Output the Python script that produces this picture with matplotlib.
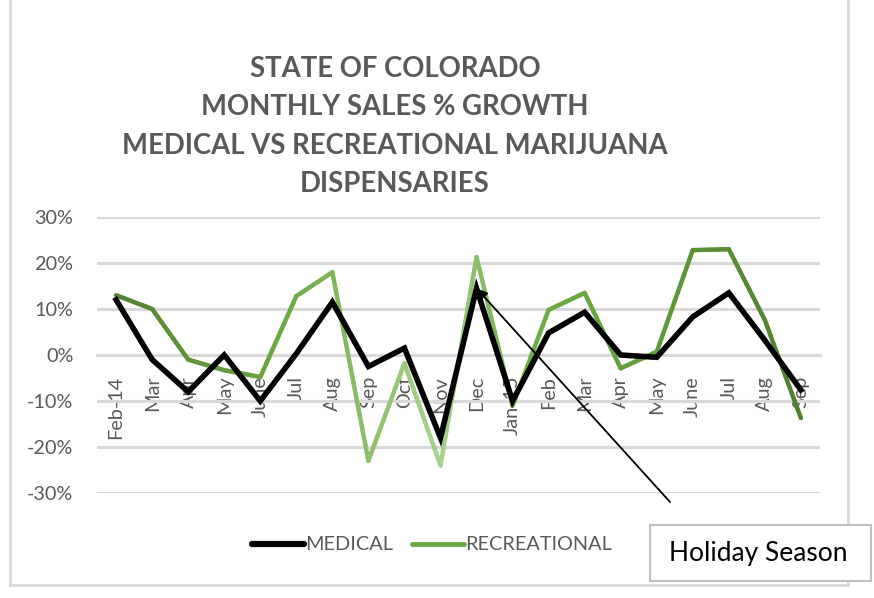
import numpy as np
import matplotlib
matplotlib.use("Agg")
import matplotlib.pyplot as plt
from matplotlib.collections import LineCollection
from matplotlib.colors import LinearSegmentedColormap
from matplotlib.lines import Line2D
from matplotlib.patches import Rectangle

# ---- data ----
months = ["Feb-14", "Mar", "Apr", "May", "June", "Jul", "Aug", "Sep", "Oct", "Nov",
          "Dec", "Jan-15", "Feb", "Mar", "Apr", "May", "June", "Jul", "Aug", "Sep"]
medical = [12.0, -1.0, -8.0, 0.0, -10.0, 0.3, 11.5, -2.5, 1.5, -18.0,
           14.5, -10.0, 4.8, 9.3, 0.0, -0.5, 8.3, 13.5, 3.2, -7.6]
recreational = [13.0, 10.0, -1.0, -3.3, -4.8, 12.8, 18.0, -23.0, -1.8, -24.0,
                21.3, -11.0, 9.8, 13.5, -2.9, 0.7, 22.8, 23.0, 7.6, -13.7]
yticks = [-30, -20, -10, 0, 10, 20, 30]
title_lines = ["STATE OF COLORADO", "MONTHLY SALES % GROWTH",
               "MEDICAL VS RECREATIONAL MARIJUANA", "DISPENSARIES"]
annotation_text = "Holiday Season"
series_names = ["MEDICAL", "RECREATIONAL"]

plt.rcParams['font.family'] = ['Lato', 'DejaVu Sans']
GRAY = "#595959"
GRID = "#D9D9D9"

fig = plt.figure(figsize=(8.74, 5.98), dpi=100)
W, H = 874, 598
ax = fig.add_axes([97 / W, 1 - 493 / H, (820 - 97) / W, (493 - 217) / H])

x = np.arange(len(months))

# gridlines
ax.set_ylim(-30, 30)
ax.set_xlim(-0.53, len(months) - 0.47)
ax.set_yticks(yticks)
ax.set_yticklabels([f"{v}%" for v in yticks])
ax.yaxis.grid(True, color=GRID, lw=2.2, zorder=0)
ax.set_axisbelow(True)
for s in ["top", "right", "left"]:
    ax.spines[s].set_visible(False)
ax.spines["bottom"].set_position(("data", 0))
ax.spines["bottom"].set_color(GRID)
ax.spines["bottom"].set_linewidth(2.2)
ax.spines["bottom"].set_zorder(0)
ax.tick_params(axis="y", length=0, pad=17, labelsize=14.3, labelcolor=GRAY)
ax.set_xticks(x)
ax.set_xticklabels(months, rotation=90, ha="center", va="top")
ax.tick_params(axis="x", length=0, pad=15, labelsize=14.3, labelcolor=GRAY)

# medical line
ax.plot(x, medical, color="black", lw=4.0, solid_joinstyle="miter", zorder=3)

# recreational line with gradient along x
cmap = LinearSegmentedColormap.from_list(
    "rec", [(0.0, "#548235"), (0.25, "#6BAA42"), (0.47, "#A9D18E"),
            (0.58, "#72B04A"), (0.8, "#5E9A3A"), (1.0, "#4F7F2F")])
xs, ys = [], []
for i in range(len(x) - 1):
    t = np.linspace(0, 1, 12, endpoint=False)
    xs.extend(x[i] + t * (x[i + 1] - x[i]))
    ys.extend(recreational[i] + t * (recreational[i + 1] - recreational[i]))
xs.append(x[-1]); ys.append(recreational[-1])
xs = np.array(xs); ys = np.array(ys)
pts = np.column_stack([xs, ys]).reshape(-1, 1, 2)
segs = np.concatenate([pts[:-1], pts[1:]], axis=1)
lc = LineCollection(segs, cmap=cmap, linewidths=3.2, capstyle="round", joinstyle="round", zorder=2)
lc.set_array((xs[:-1] + xs[1:]) / 2 / x[-1])
lc.set_clim(0, 1)
ax.add_collection(lc)

# title
fig.text(395 / W, 1 - 126.5 / H, "\n".join(title_lines), ha="center", va="center",
         fontsize=19.8, fontweight="bold", color=GRAY, linespacing=1.6)

# legend
handles = [Line2D([], [], color="black", lw=4.5, solid_capstyle="round"),
           Line2D([], [], color="#6AAA45", lw=3.5, solid_capstyle="round")]
leg = fig.legend(handles, series_names, loc="center", bbox_to_anchor=(432 / W, 1 - 545 / H),
                 ncol=2, frameon=False, fontsize=14.3, handlelength=2.6, handletextpad=0.05,
                 columnspacing=1.0, labelcolor=GRAY)

# outer chart border (left, right, bottom)
for (x0, y0, x1, y1) in [(10, 0, 10, 585), (848, 0, 848, 585), (10, 585, 848, 585)]:
    fig.add_artist(Line2D([x0 / W, x1 / W], [1 - y0 / H, 1 - y1 / H],
                          transform=fig.transFigure, color=GRID, lw=2))

# annotation arrow
ax.annotate("", xy=(x[10], medical[10]), xycoords="data",
            xytext=(670 / W, 1 - 502 / H), textcoords="figure fraction",
            arrowprops=dict(arrowstyle="-|>", color="black", lw=1.3, mutation_scale=16,
                            shrinkA=0, shrinkB=0), zorder=5)

# holiday season box
fig.add_artist(Rectangle((650 / W, 1 - 581 / H), (871 - 650) / W, (581 - 525) / H,
                         transform=fig.transFigure, facecolor="white", edgecolor="#BFBFBF", lw=1.5,
                         zorder=6))
fig.text(669 / W, 1 - 553 / H, annotation_text, ha="left", va="center", fontsize=19,
         color="black", zorder=7)

fig.savefig("out.png", dpi=100)
